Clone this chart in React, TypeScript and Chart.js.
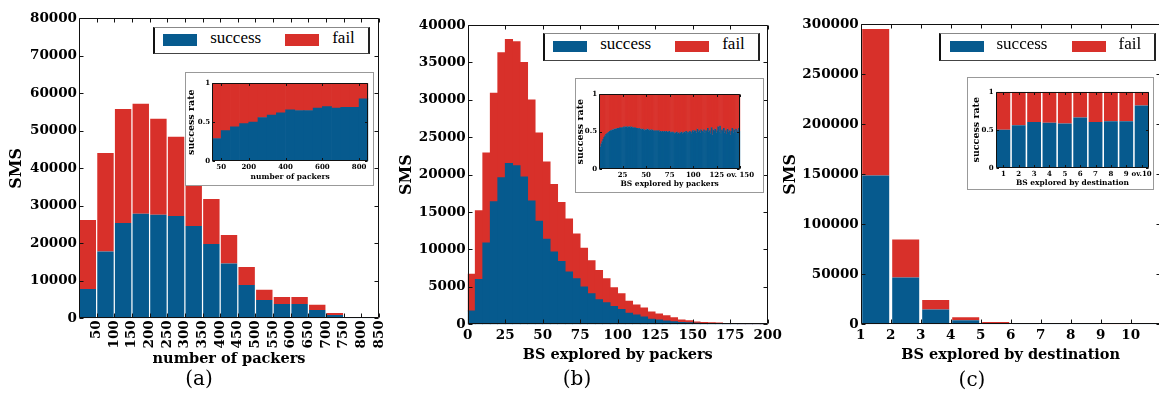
import React, { useEffect, useRef } from 'react';
import { Chart, registerables } from 'chart.js';

Chart.register(...registerables);

const BLUE = '#065a8e';
const RED = '#d8302a';
const SERIF = '"DejaVu Serif", serif';

// ---------- (a) number of packers (bins of 50) ----------
const packerBinCenters = [25, 75, 125, 175, 225, 275, 325, 375, 425, 475, 525, 575, 625, 675, 725, 775, 825];
const packerTickValues = [50, 100, 150, 200, 250, 300, 350, 400, 450, 500, 550, 600, 650, 700, 750, 800, 850];
const packerSuccess = [7800, 17800, 25400, 27900, 27600, 27300, 24600, 19800, 14600, 8900, 4900, 3800, 3800, 2200, 900, 150, 100];
const packerTotal = [26200, 44100, 55800, 57200, 53200, 48400, 41200, 31800, 22200, 13700, 7600, 5700, 5700, 3600, 1400, 350, 300];
const packerRate = [0.29, 0.39, 0.44, 0.48, 0.50, 0.56, 0.59, 0.62, 0.66, 0.65, 0.65, 0.68, 0.70, 0.68, 0.69, 0.69, 0.80];
const packerRateTickValues = [50, 200, 400, 600, 800];

// ---------- (b) BS explored by packers (bins of 5) ----------
const bsPackBinCenters = [2.5, 7.5, 12.5, 17.5, 22.5, 27.5, 32.5, 37.5, 42.5, 47.5, 52.5, 57.5, 62.5, 67.5, 72.5, 77.5, 82.5, 87.5, 92.5, 97.5,
  102.5, 107.5, 112.5, 117.5, 122.5, 127.5, 132.5, 137.5, 142.5, 147.5, 152.5, 157.5, 162.5, 167.5, 172.5, 177.5, 182.5, 187.5, 192.5, 197.5];
const bsPackTickValues = [0, 25, 50, 75, 100, 125, 150, 175, 200];
const bsPackSuccess = [1800, 6000, 10900, 16400, 19600, 21500, 21200, 19700, 16500, 13800, 11400, 9700, 8400, 7000, 6100, 5000, 4100, 3300, 2900, 2400,
  2000, 1500, 1250, 1000, 700, 600, 450, 350, 270, 220, 150, 120, 100, 80, 50, 40, 30, 20, 20, 15];
const bsPackTotal = [6700, 15200, 22900, 30900, 36300, 38100, 37800, 35000, 30000, 25600, 21700, 18700, 16300, 14100, 12100, 10200, 8500, 7200, 6100, 4900,
  4100, 3100, 2600, 2200, 1650, 1400, 1150, 900, 600, 500, 320, 270, 220, 180, 120, 100, 80, 60, 50, 40];
const bsPackRate = [
  0.26, 0.30, 0.34, 0.37, 0.40, 0.43, 0.45, 0.47, 0.48, 0.49,
  0.50, 0.51, 0.52, 0.52, 0.53, 0.53, 0.54, 0.54, 0.54, 0.55,
  0.55, 0.55, 0.56, 0.55, 0.56, 0.56, 0.57, 0.56, 0.57, 0.57,
  0.56, 0.57, 0.57, 0.56, 0.57, 0.56, 0.56, 0.55, 0.56, 0.55,
  0.55, 0.54, 0.55, 0.54, 0.54, 0.53, 0.54, 0.53, 0.52, 0.53,
  0.53, 0.54, 0.53, 0.52, 0.53, 0.52, 0.53, 0.52, 0.51, 0.52,
  0.51, 0.52, 0.51, 0.52, 0.50, 0.51, 0.50, 0.51, 0.50, 0.51,
  0.50, 0.51, 0.50, 0.50, 0.51, 0.49, 0.50, 0.49, 0.50, 0.49,
  0.48, 0.49, 0.50, 0.48, 0.49, 0.47, 0.49, 0.50, 0.48, 0.49,
  0.50, 0.49, 0.51, 0.48, 0.50, 0.49, 0.51, 0.50, 0.48, 0.52,
  0.50, 0.52, 0.51, 0.49, 0.54, 0.50, 0.52, 0.49, 0.53, 0.51,
  0.50, 0.53, 0.49, 0.52, 0.51, 0.55, 0.50, 0.52, 0.48, 0.56,
  0.46, 0.53, 0.51, 0.54, 0.49, 0.52, 0.57, 0.50, 0.58, 0.48,
  0.53, 0.51, 0.55, 0.49, 0.52, 0.47, 0.54, 0.50, 0.52, 0.46,
  0.51, 0.55, 0.49, 0.53, 0.50, 0.54, 0.48, 0.52, 0.55, 0.51,
];
const bsPackRateBins = bsPackRate.map((_, i) => i + 0.5);
const bsPackRateTickValues = [25, 50, 75, 100, 125, 150];
const bsPackRateTickLabels = ['25', '50', '75', '100', '125', 'ov. 150'];

// ---------- (c) BS explored by destination ----------
const destBinCenters = [1.5, 2.5, 3.5, 4.5, 5.5, 6.5, 7.5, 8.5, 9.5, 10.5];
const destTickValues = [1, 2, 3, 4, 5, 6, 7, 8, 9, 10];
const destSuccess = [148700, 46700, 14700, 4000, 1300, 400, 250, 180, 120, 300];
const destTotal = [295300, 84700, 24300, 7000, 2300, 800, 500, 350, 250, 500];
const destRateLabels = ['1', '2', '3', '4', '5', '6', '7', '8', '9', 'ov.10'];
const destRate = [0.50, 0.56, 0.60, 0.59, 0.58, 0.66, 0.60, 0.61, 0.61, 0.82];

const framePlugin = {
  id: 'frame',
  afterDatasetsDraw(chart: any, _args: any, opts: any) {
    const { ctx, chartArea: a, scales } = chart;
    const len = opts.tickLen ?? 4;
    const L = Math.round(a.left) + 0.5;
    const R = Math.round(a.right) - 0.5;
    const T = Math.round(a.top) + 0.5;
    const B = Math.round(a.bottom) - 0.5;
    ctx.save();
    ctx.strokeStyle = '#111';
    ctx.lineWidth = 1;
    ctx.beginPath();
    ctx.rect(L, T, R - L, B - T);
    const xs = scales.x;
    const ys = scales.y;
    xs.ticks.forEach((_t: any, i: number) => {
      const p = Math.round(xs.getPixelForTick(i)) + 0.5;
      ctx.moveTo(p, B); ctx.lineTo(p, B - len);
      ctx.moveTo(p, T); ctx.lineTo(p, T + len);
    });
    ys.ticks.forEach((_t: any, i: number) => {
      const p = Math.round(ys.getPixelForTick(i)) + 0.5;
      ctx.moveTo(L, p); ctx.lineTo(L + len, p);
      ctx.moveTo(R, p); ctx.lineTo(R - len, p);
    });
    ctx.stroke();
    ctx.restore();
  },
};

type Box = { x: number; y: number; w: number; h: number };
type Area = { l: number; t: number; r: number; b: number };
type Spec = {
  canvas: Box; area: Area;
  xs?: number[]; labels?: string[];
  success: number[]; fail: number[];
  xMin?: number; xMax?: number; xTicks?: number[]; xTickLabels?: string[];
  yMax: number; yStep: number;
  barPct: number;
  tickSize: number; rotate: number; xTickPad: number; yTickPad: number;
  xTitle: string; xTitleSize: number; xTitleY: number;
  yTitle: string; yTitleSize: number; yTitleX: number;
  tickLen: number;
};

function buildConfig(s: Spec): any {
  const c = s.canvas;
  const a = s.area;
  const xLH = s.xTitleSize * 1.2;
  const yLH = s.yTitleSize * 1.2;
  const linear = !!s.xs;
  const pts = (vals: number[]) => (linear ? s.xs!.map((x, i) => ({ x, y: vals[i] })) : vals);
  const tickFont = { family: SERIF, size: s.tickSize, weight: 'bold' };
  const ds = { borderWidth: 0, barPercentage: s.barPct, categoryPercentage: 1 };
  return {
    type: 'bar',
    data: {
      labels: s.labels,
      datasets: [
        { label: 'success', data: pts(s.success), backgroundColor: BLUE, ...ds },
        { label: 'fail', data: pts(s.fail), backgroundColor: RED, ...ds },
      ],
    },
    options: {
      responsive: false,
      animation: false,
      events: [],
      layout: { padding: { left: 0, top: a.t - c.y, right: c.x + c.w - a.r, bottom: 0 } },
      plugins: { legend: { display: false }, tooltip: { enabled: false }, frame: { tickLen: s.tickLen } },
      scales: {
        x: {
          type: linear ? 'linear' : 'category',
          stacked: true,
          min: s.xMin,
          max: s.xMax,
          offset: !linear,
          grid: { display: false, drawTicks: false },
          border: { display: false },
          afterBuildTicks: s.xTicks ? (sc: any) => { sc.ticks = s.xTicks!.map((v) => ({ value: v })); } : undefined,
          afterFit: (sc: any) => { sc.height = c.y + c.h - a.b; },
          ticks: {
            color: '#000', font: tickFont, padding: s.xTickPad, autoSkip: false,
            maxRotation: s.rotate, minRotation: s.rotate,
            ...(linear ? {
              callback: (v: number) => {
                if (s.xTickLabels && s.xTicks) {
                  const k = s.xTicks.indexOf(v);
                  return k >= 0 ? s.xTickLabels[k] : String(v);
                }
                return String(v);
              },
            } : {}),
          },
          title: {
            display: true, text: s.xTitle, color: '#000',
            font: { family: SERIF, size: s.xTitleSize, weight: 'bold' },
            padding: { top: 0, bottom: Math.max(0, c.y + c.h - xLH / 2 - s.xTitleY) },
          },
        },
        y: {
          type: 'linear',
          stacked: true,
          min: 0,
          max: s.yMax,
          grid: { display: false, drawTicks: false },
          border: { display: false },
          afterFit: (sc: any) => { sc.width = a.l - c.x; },
          ticks: { stepSize: s.yStep, color: '#000', font: tickFont, padding: s.yTickPad, callback: (v: number) => String(v) },
          title: {
            display: true, text: s.yTitle, color: '#000',
            font: { family: SERIF, size: s.yTitleSize, weight: 'bold' },
            padding: { top: Math.max(0, s.yTitleX - c.x - yLH / 2), bottom: 0 },
          },
        },
      },
    },
    plugins: [framePlugin],
  };
}

const mainCommon = {
  tickSize: 13.5, xTickPad: 3, yTickPad: 2, xTitleSize: 14.5, yTitle: 'SMS', yTitleSize: 16, tickLen: 4,
};
const insetCommon = {
  yMax: 1, yStep: 0.5, tickSize: 7, rotate: 0, xTickPad: 2, yTickPad: 2,
  xTitleSize: 7.5, yTitle: 'success rate', yTitleSize: 9.5, tickLen: 2.5,
};

const specA: Spec = {
  ...mainCommon,
  canvas: { x: 0, y: 0, w: 405, h: 372 }, area: { l: 79, t: 18.3, r: 379, b: 318.3 },
  xs: packerBinCenters, success: packerSuccess, fail: packerTotal.map((t, i) => t - packerSuccess[i]),
  xMin: 0, xMax: 850, xTicks: packerTickValues, yMax: 80000, yStep: 10000, barPct: 0.93,
  rotate: 90, xTickPad: 2, xTitle: 'number of packers', xTitleY: 359.5, yTitleX: 17,
};
const specB: Spec = {
  ...mainCommon,
  canvas: { x: 390, y: 0, w: 405, h: 372 }, area: { l: 467.7, t: 25, r: 767.7, b: 324.3 },
  xs: bsPackBinCenters, success: bsPackSuccess, fail: bsPackTotal.map((t, i) => t - bsPackSuccess[i]),
  xMin: 0, xMax: 200, xTicks: bsPackTickValues, yMax: 40000, yStep: 5000, barPct: 1,
  rotate: 0, xTitle: 'BS explored by packers', xTitleY: 355, yTitleX: 407,
};
const specC: Spec = {
  ...mainCommon,
  canvas: { x: 770, y: 0, w: 405, h: 372 }, area: { l: 860.7, t: 24.3, r: 1160.7, b: 324.3 },
  xs: destBinCenters, success: destSuccess, fail: destTotal.map((t, i) => t - destSuccess[i]),
  xMin: 1, xMax: 11, xTicks: destTickValues, yMax: 300000, yStep: 50000, barPct: 0.9,
  rotate: 0, xTitle: 'BS explored by destination', xTitleY: 355, yTitleX: 791,
};

const insetA: Spec = {
  ...insetCommon,
  canvas: { x: 185, y: 72, w: 200, h: 114 }, area: { l: 212, t: 83.3, r: 368.3, b: 161 },
  xs: packerBinCenters, success: packerRate, fail: packerRate.map((r) => 1 - r),
  xMin: 0, xMax: 850, xTicks: packerRateTickValues, barPct: 1,
  xTitle: 'number of packers', xTitleY: 176.7, yTitleX: 191.7,
};
const insetB: Spec = {
  ...insetCommon,
  canvas: { x: 575, y: 77, w: 200, h: 116 }, area: { l: 599, t: 94.3, r: 740.3, b: 169 },
  xs: bsPackRateBins, success: bsPackRate, fail: bsPackRate.map((r) => 1 - r),
  xMin: 0, xMax: 150, xTicks: bsPackRateTickValues, xTickLabels: bsPackRateTickLabels, barPct: 1.7,
  xTitle: 'BS explored by packers', xTitleY: 184, yTitleX: 581,
};
const insetC: Spec = {
  ...insetCommon,
  canvas: { x: 967, y: 77, w: 200, h: 113 }, area: { l: 995.7, t: 91.7, r: 1149.3, b: 167.7 },
  labels: destRateLabels, success: destRate, fail: destRate.map((r) => 1 - r), barPct: 0.9,
  xTitle: 'BS explored by destination', xTitleY: 183, yTitleX: 976.3,
};

function ChartCanvas({ spec }: { spec: Spec }) {
  const ref = useRef<HTMLCanvasElement>(null);
  useEffect(() => {
    const chart = new Chart(ref.current as HTMLCanvasElement, buildConfig(spec));
    return () => chart.destroy();
  }, [spec]);
  const { x, y, w, h } = spec.canvas;
  return (
    <canvas
      ref={ref}
      width={w}
      height={h}
      style={{ position: 'absolute', left: x, top: y, width: w, height: h }}
    />
  );
}

function Legend({ x, y }: { x: number; y: number }) {
  const text: React.CSSProperties = {
    position: 'absolute', top: 0, height: 25, lineHeight: '25px',
    font: '17px "Liberation Serif", serif', color: '#000', whiteSpace: 'nowrap',
  };
  return (
    <div
      style={{
        position: 'absolute', left: x, top: y, width: 217, height: 27.5, boxSizing: 'border-box',
        background: '#fff', borderTop: '1px solid #888', borderBottom: '1.5px solid #444',
        borderLeft: '2px solid #111', borderRight: '2px solid #222',
      }}
    >
      <div style={{ position: 'absolute', left: 8.5, top: 6.6, width: 34, height: 11.4, background: BLUE }} />
      <div style={{ ...text, left: 55.5 }}>success</div>
      <div style={{ position: 'absolute', left: 130.5, top: 6.6, width: 34, height: 11.4, background: RED }} />
      <div style={{ ...text, left: 177.5 }}>fail</div>
    </div>
  );
}

function InsetBox({ x, y, w, h }: Box) {
  return (
    <div
      style={{
        position: 'absolute', left: x, top: y, width: w, height: h, boxSizing: 'border-box',
        background: '#fff', border: '1px solid #999',
      }}
    />
  );
}

function Caption({ cx, cy, text }: { cx: number; cy: number; text: string }) {
  return (
    <div
      style={{
        position: 'absolute', left: cx - 40, top: cy - 12, width: 80, height: 24, lineHeight: '24px',
        textAlign: 'center', font: '20px "DejaVu Serif", serif', color: '#000',
      }}
    >
      {text}
    </div>
  );
}

export default function App() {
  return (
    <div style={{ position: 'absolute', left: 0, top: 0, width: 1159, height: 415, overflow: 'hidden', background: '#fff' }}>
      <ChartCanvas spec={specA} />
      <ChartCanvas spec={specB} />
      <ChartCanvas spec={specC} />
      <Legend x={152.7} y={26.7} />
      <Legend x={542.7} y={33.3} />
      <Legend x={939} y={33.3} />
      <InsetBox x={185} y={72} w={189} h={114} />
      <InsetBox x={575} y={77.5} w={189} h={115} />
      <InsetBox x={967} y={77} w={187} h={113} />
      <ChartCanvas spec={insetA} />
      <ChartCanvas spec={insetB} />
      <ChartCanvas spec={insetC} />
      <Caption cx={199} cy={378} text="(a)" />
      <Caption cx={577} cy={378} text="(b)" />
      <Caption cx={972} cy={379} text="(c)" />
    </div>
  );
}
